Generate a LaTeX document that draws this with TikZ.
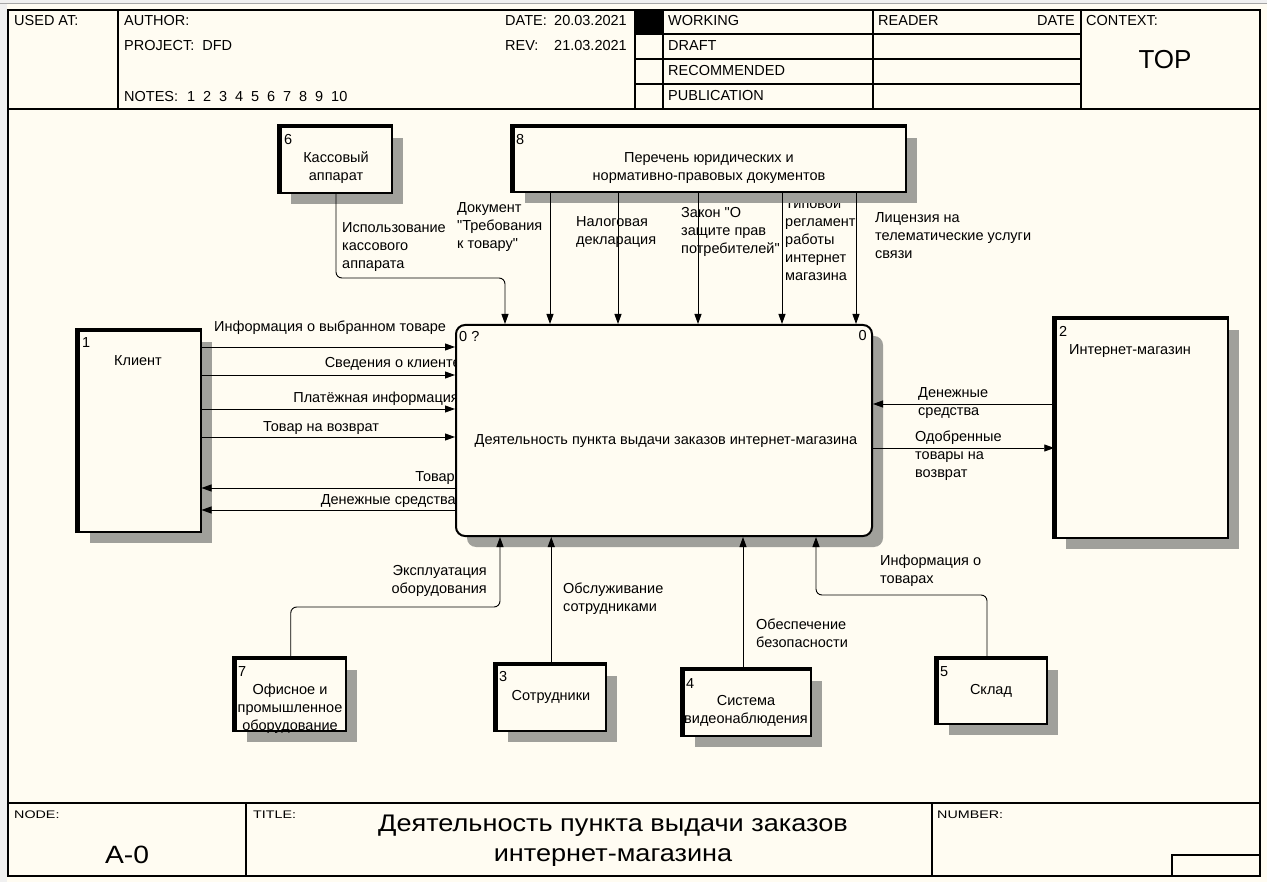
\documentclass[tikz,border=0pt]{standalone}
\usepackage{fontspec}
\setmainfont{Liberation Sans}[Ligatures=TeXOff]
\newfontfamily\ftrfont[FakeStretch=1.3]{Liberation Sans}
\newfontfamily\ttlfont[FakeStretch=1.13]{Liberation Sans}
\usetikzlibrary{arrows.meta,shadows}
\definecolor{paper}{RGB}{255,252,242}
\definecolor{shade}{RGB}{160,160,155}
\definecolor{winbg}{RGB}{240,240,240}
\tikzset{%
    frm/.style={line width = 1.2pt},
    bx/.style={draw, rectangle, line width = 2pt, fill=paper, inner sep=0pt,
        drop shadow={shadow xshift=11pt, shadow yshift=-11pt, fill=shade, opacity=1}},
    thk/.style={line width = 4.5pt},
    pri/.style={line width = 0.9pt},
    pra/.style={line width = 0.9pt, -{Triangle[length=10pt, width=7pt]}},
    txt/.style={font=\fontsize{14.5}{18}\selectfont, inner sep=0pt},
    lab/.style={txt, align=left, anchor=base west},
    labr/.style={txt, align=right, anchor=base east},
    cen/.style={txt, align=center, anchor=base},
    hdr/.style={txt, anchor=base west},
    ftr/.style={font=\ftrfont\fontsize{11}{13}\selectfont, inner sep=0pt, anchor=base west},
}

\begin{document}
\begin{tikzpicture}[x=1pt,y=-1pt]
    \useasboundingbox (0,0) rectangle (1267,882);
    % page and frame
    \fill[winbg] (0,0) rectangle (1267,882);
    \fill[paper] (7,4) rectangle (1267,882);
    \draw[gray!70, line width=1pt] (0,3.5) -- (1267,3.5);
    \draw[frm] (8,10) rectangle (1260,876);
    \draw[frm] (8,109) -- (1260,109);
    \draw[frm] (8,803) -- (1260,803);
    \foreach \x in {118,635,663,873,1081} \draw[frm] (\x,10) -- (\x,109);
    \foreach \y in {34,59,84} \draw[frm] (635,\y) -- (1081,\y);
    \fill (635,10) rectangle (663,34);
    \draw[frm] (246,803) -- (246,876);
    \draw[frm] (932,803) -- (932,876);
    \draw[frm] (1172,876) |- (1260,855);

    % header
    \node[hdr] (usedat) at (14,26) {USED AT:};
    \node[hdr] (author) at (124,26) {AUTHOR:};
    \node[hdr] (project) at (124,51) {PROJECT:\ \ DFD};
    \node[hdr] (notes) at (124,102) {NOTES:};
    \foreach \n [count=\i from 0] in {1,...,10}
        \node[hdr] (note\n) at (187+16*\i,102) {\n};
    \node[hdr] (date) at (505,26) {DATE:};
    \node[hdr] (dateval) at (554,26) {20.03.2021};
    \node[hdr] (rev) at (505,51) {REV:};
    \node[hdr] (revval) at (554,51) {21.03.2021};
    \node[hdr] (working) at (668,26) {WORKING};
    \node[hdr] (draft) at (668,51) {DRAFT};
    \node[hdr] (recom) at (668,76) {RECOMMENDED};
    \node[hdr] (publ) at (668,101) {PUBLICATION};
    \node[hdr] (reader) at (878,26) {READER};
    \node[txt, anchor=base east] (rdate) at (1075,26) {DATE};
    \node[hdr] (context) at (1086,26) {CONTEXT:};
    \node[txt, anchor=base, font=\fontsize{26}{30}\selectfont] (top) at (1165,69) {TOP};

    % footer
    \node[ftr] (nodelab) at (14,818) {NODE:};
    \node[ftr] (titlelab) at (253,818) {TITLE:};
    \node[ftr] (numlab) at (937,818) {NUMBER:};
    \node[txt, anchor=base, font=\ttlfont\fontsize{25}{30}\selectfont] (nodeval) at (127,863) {A-0};
    \node[txt, align=center, anchor=base, font=\ttlfont\fontsize{24}{30}\selectfont] (titleval) at (613,861)
        {Деятельность пункта выдачи заказов\\интернет-магазина};

    % arrow labels
    \node[lab] (useL) at (342,269) {Использование\\кассового\\аппарата};
    \node[lab] (docL) at (457,249) {Документ\\"Требования\\к товару"};
    \node[lab] (taxL) at (576,245) {Налоговая\\декларация};
    \node[lab] (rightsL) at (681,254) {Закон "О\\защите прав\\потребителей"};
    \node[lab] (regL) at (785,281) {Типовой\\регламент\\работы\\интернет\\магазина};
    \node[lab] (licL) at (875,259) {Лицензия на\\телематические услуги\\связи};
    \node[lab] (infoL) at (214,332) {Информация о выбранном товаре};
    \node[labr] (dataL) at (461,368) {Сведения о клиенте};
    \node[labr] (payL) at (459,403) {Платёжная информация};
    \node[lab] (retL) at (263,432) {Товар на возврат};
    \node[labr] (goodsL) at (455,482) {Товар};
    \node[labr] (moneyL) at (456,504) {Денежные средства};
    \node[lab] (cashL) at (918,416) {Денежные\\средства};
    \node[lab] (okL) at (915,478) {Одобренные\\товары на\\возврат};
    \node[labr] (useEqL) at (487,593) {Эксплуатация\\оборудования};
    \node[lab] (serveL) at (563,611) {Обслуживание\\сотрудниками};
    \node[lab] (safeL) at (756,647) {Обеспечение\\безопасности};
    \node[lab] (stockL) at (880,583) {Информация о\\товарах};

    % boxes
    \node[bx, minimum width=111.5pt, minimum height=66pt] (kas) at (336,160) {};
    \node[bx, minimum width=392.5pt, minimum height=65pt] (law) at (709.75,159.5) {};
    \node[bx, minimum width=122pt, minimum height=201pt] (client) at (139.5,431.5) {};
    \node[bx, minimum width=172.5pt, minimum height=219pt] (shop) at (1141.5,428.5) {};
    \node[bx, minimum width=110.5pt, minimum height=72pt] (equip) at (290.75,695) {};
    \node[bx, minimum width=109.5pt, minimum height=66pt] (staff) at (551.25,698) {};
    \node[bx, minimum width=127.5pt, minimum height=66pt] (video) at (747.25,703) {};
    \node[bx, minimum width=109.5pt, minimum height=65pt] (store) at (992.25,691.5) {};
    \node[bx, rounded corners=9pt, minimum width=416pt, minimum height=211pt] (main) at (664,430.5) {};
    \foreach \b in {kas,law,client,shop,equip,staff,video,store}
        \draw[thk] (\b.south west) -- (\b.north west) -- (\b.north east);

    % box texts
    \node[hdr] (kasN) at (284,145) {6};
    \node[cen] (kasT) at (336,181) {Кассовый\\аппарат};
    \node[hdr] (lawN) at (516,145) {8};
    \node[cen] (lawT) at (709,181) {Перечень юридических и\\нормативно-правовых документов};
    \node[hdr] (clientN) at (82,348) {1};
    \node[cen] (clientT) at (138,366) {Клиент};
    \node[hdr] (shopN) at (1059,337) {2};
    \node[cen] (shopT) at (1130,355) {Интернет-магазин};
    \node[hdr] (equipN) at (238,676) {7};
    \node[cen] (equipT) at (290,730) {Офисное и\\промышленное\\оборудование};
    \node[hdr] (staffN) at (499,681) {3};
    \node[cen] (staffT) at (551,700) {Сотрудники};
    \node[hdr] (videoN) at (686,688) {4};
    \node[cen] (videoT) at (746,723) {Система\\видеонаблюдения};
    \node[hdr] (storeN) at (940,676) {5};
    \node[cen] (storeT) at (991,694) {Склад};
    \node[hdr] (mainN) at (459,342) {0 ?};
    \node[txt, anchor=base east] (mainC) at (867,341) {0};
    \node[cen] (mainT) at (666,445) {Деятельность пункта выдачи заказов интернет-магазина};

    % controls
    \coordinate (kasBend) at (505,278);
    \draw[pra, rounded corners=6pt] (kas.south) |- (kasBend) -- (main.north -| kasBend);
    \foreach \x in {550,618,698,782,856}
        \draw[pra] (law.south -| \x,0) -- (main.north -| \x,0);

    % inputs and outputs
    \foreach \y in {347,375,409,437}
        \draw[pra] (client.east |- 0,\y) -- (main.west |- 0,\y);
    \foreach \y in {488,510}
        \draw[pra] (main.west |- 0,\y) -- (client.east |- 0,\y);
    \draw[pra] (shop.west |- 0,404) -- (main.east |- 0,404);
    \draw[pra] (main.east |- 0,448) -- (shop.west |- 0,448);

    % mechanisms
    \coordinate (eqBend) at (500,607);
    \draw[pra, rounded corners=6pt] (equip.north) |- (eqBend) -- (main.south -| eqBend);
    \draw[pra] (staff.north) -- (main.south -| staff.north);
    \draw[pra] (video.north -| 743,0) -- (main.south -| 743,0);
    \coordinate (stBend) at (816,595);
    \draw[pra, rounded corners=6pt] (store.north -| 987,0) |- (stBend) -- (main.south -| stBend);
\end{tikzpicture}
\end{document}
